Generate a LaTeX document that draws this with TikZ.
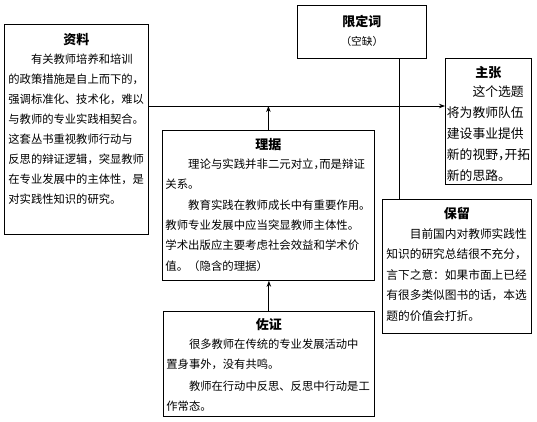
\documentclass[tikz,border=0pt]{standalone}
\usepackage{fontspec}
\setmainfont{Noto Sans CJK SC}
\usetikzlibrary{positioning,arrows.meta}
\newcommand{\hcomma}{\makebox[0.5em][l]{，}}
\newcommand{\ind}{\hspace*{2em}}
\newcommand{\ttl}[1]{\makebox[\linewidth]{\fontsize{13}{14}\selectfont\bfseries #1}}

\begin{document}
\begin{tikzpicture}[x=1pt, y=-1pt,
  panel/.style={draw=black, line width=0.8pt, inner sep=0pt, anchor=north west},
  body/.style={align=left, inner sep=0pt, anchor=base},
  flow/.style={-{Stealth[length=6pt,width=4.5pt]}, line width=0.9pt},
  link/.style={line width=0.8pt}]
\useasboundingbox (0,0) rectangle (537,422);
% ===== boxes =====
\node[panel, minimum width=144pt, minimum height=210pt] (ziliao) at (4,24) {};
\node[body, text width=136pt, font=\fontsize{11.3}{20}\selectfont] (ziliao-t) at ([yshift=-21pt]ziliao.north) {\ttl{资料}\\[-1.6pt]
\ind 有关教师培养和培训\\
的政策措施是自上而下的，\\
强调标准化、技术化，难以\\
与教师的专业实践相契合。\\
这套丛书重视教师行动与\\
反思的辩证逻辑，突显教师\\
在专业发展中的主体性，是\\
对实践性知识的研究。};

\node[panel, minimum width=129pt, minimum height=53pt] (xianding) at (297,5) {};
\node[body, text width=121pt, font=\fontsize{10.7}{19}\selectfont] (xianding-t) at ([yshift=-22pt]xianding.north) {\ttl{限定词}\\
\makebox[\linewidth]{（空缺）}};

\node[panel, minimum width=86pt, minimum height=126pt] (zhuzhang) at (445,58) {};
\node[body, text width=83pt, font=\fontsize{12.8}{21}\selectfont] (zhuzhang-t) at ([yshift=-19.9pt]zhuzhang.north) {\ttl{主张}\\[-2pt]
\ind 这个选题\\
将为教师队伍\\
建设事业提供\\
新的视野\hcomma 开拓\\
新的思路。};

\node[panel, minimum width=212pt, minimum height=150pt] (liju) at (162,130) {};
\node[body, text width=206pt, font=\fontsize{11.4}{20.2}\selectfont] (liju-t) at ([yshift=-19.9pt]liju.north) {\ttl{理据}\\[-1.8pt]
\ind 理论与实践并非二元对立\hcomma 而是辩证\\
关系。\\[0.8pt]
\ind 教育实践在教师成长中有重要作用。\\
教师专业发展中应当突显教师主体性。\\
学术出版应主要考虑社会效益和学术价\\
值。（隐含的理据）};

\node[panel, minimum width=211pt, minimum height=105pt] (zuozheng) at (163,311) {};
\node[body, text width=205pt, font=\fontsize{11.3}{20.5}\selectfont] (zuozheng-t) at ([yshift=-18.9pt]zuozheng.north) {\ttl{佐证}\\[-2.1pt]
\ind 很多教师在传统的专业发展活动中\\
置身事外，没有共鸣。\\[1pt]
\ind 教师在行动中反思、反思中行动是工\\
作常态。};

\node[panel, minimum width=149pt, minimum height=134pt] (baoliu) at (382,199) {};
\node[body, text width=141pt, font=\fontsize{11.7}{20.5}\selectfont] (baoliu-t) at ([yshift=-19.9pt]baoliu.north) {\ttl{保留}\\[-1.1pt]
\ind 目前国内对教师实践性\\
知识的研究总结很不充分，\\
言下之意：如果市面上已经\\
有很多类似图书的话，本选\\
题的价值会打折。};

% ===== connectors =====
\coordinate (d-out) at ([yshift=-82pt]ziliao.north east);
\coordinate (q-top) at ([xshift=37pt]xianding.south);
\draw[flow] (d-out) -- (d-out -| zhuzhang.west);
\draw[flow] (liju.north) -- (liju.north |- d-out);
\draw[flow] (zuozheng.north) -- (zuozheng.north |- liju.south);
\draw[link] (q-top) -- (q-top |- baoliu.north);
\end{tikzpicture}
\end{document}
